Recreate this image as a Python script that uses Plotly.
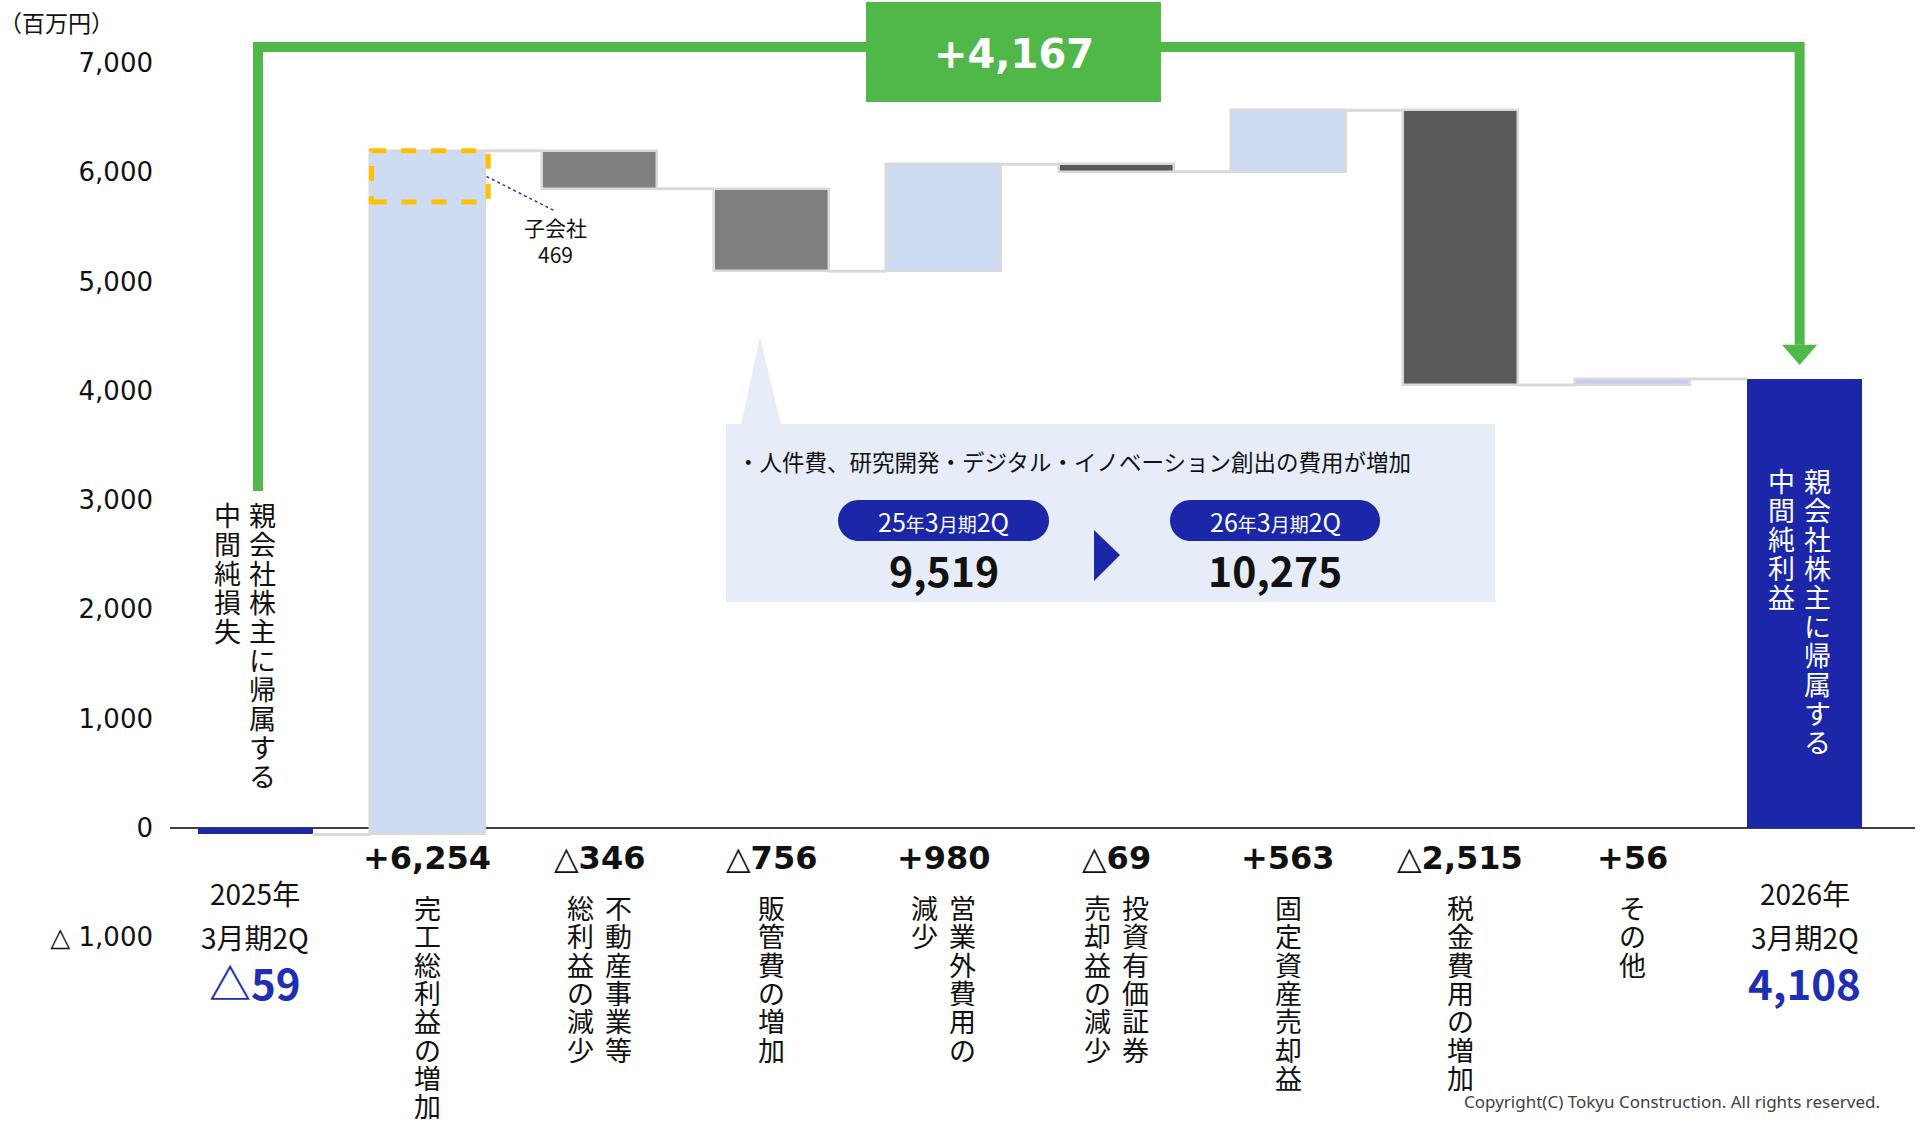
import plotly.graph_objects as go

# ---------------- data ----------------
categories = ["2025年3月期2Q", "完工総利益の増加", "不動産事業等総利益の減少", "販管費の増加",
              "営業外費用の減少", "投資有価証券売却益の減少", "固定資産売却益", "税金費用の増加",
              "その他", "2026年3月期2Q"]
values = [-59, 6254, -346, -756, 980, -69, 563, -2515, 56, 4108]
measures = ["total", "relative", "relative", "relative", "relative", "relative",
            "relative", "relative", "relative", "total"]
# vertical category labels, columns read right -> left
label_columns = [None, ["完工総利益の増加"], ["不動産事業等", "総利益の減少"], ["販管費の増加"],
                 ["営業外費用の", "減少"], ["投資有価証券", "売却益の減少"], ["固定資産売却益"],
                 ["税金費用の増加"], ["その他"], None]
period_lines = {0: ["2025年", "3月期2Q"], 9: ["2026年", "3月期2Q"]}
total_bar_text = {0: ["親会社株主に帰属する", "中間純損失"], 9: ["親会社株主に帰属する", "中間純利益"]}
y_tick_vals = [-1000, 0, 1000, 2000, 3000, 4000, 5000, 6000, 7000]
y_tick_text = ["△ 1,000", "0", "1,000", "2,000", "3,000", "4,000", "5,000", "6,000", "7,000"]
unit_label = "（百万円）"
subsidiary_label = "子会社"
subsidiary_value = 469
total_change = 4167
callout_text = "・人件費、研究開発・デジタル・イノベーション創出の費用が増加"
sga_periods = ["25年3月期2Q", "26年3月期2Q"]
sga_values = [9519, 10275]
copyright_text = "Copyright(C) Tokyu Construction. All rights reserved."

# ---------------- styles ----------------
W, H = 1923, 1125
ML, MR = 170, 8
XR = [-0.494, 9.64]
YR = [-2717, 7575]
BW = 0.668
DARK_BLUE = "#1b27a8"
LIGHT_BLUE = "#cddcf3"
GREEN = "#50b848"
bar_colors = [DARK_BLUE, LIGHT_BLUE, "#7f7f7f", "#7f7f7f", LIGHT_BLUE, "#595959",
              LIGHT_BLUE, "#595959", "#c9cdf6", DARK_BLUE]
JP = "Noto Sans CJK JP"
DV = "DejaVu Sans"
TXT = "#111111"


def PX(px):  # pixel x -> paper
    return (px - ML) / (W - ML - MR)


def PY(py):  # pixel y -> paper
    return 1 - py / H


def fmt(v):
    return f"+{v:,}" if v > 0 else f"△{-v:,}"


# ---------------- waterfall geometry ----------------
bases, ends = [], []
running = 0
for v, m in zip(values, measures):
    if m == "total":
        bases.append(0)
        running = v
    else:
        bases.append(running)
        running += v
    ends.append(running)

xs = list(range(len(categories)))

fig = go.Figure()

# connectors
cx, cy = [], []
for i in range(len(xs) - 1):
    cx += [xs[i] + BW / 2, xs[i + 1] - BW / 2, None]
    cy += [ends[i], ends[i], None]
fig.add_trace(go.Scatter(x=cx, y=cy, mode="lines", line=dict(color="#d9d9d9", width=3),
                         hoverinfo="skip", showlegend=False))

fig.add_trace(go.Bar(
    x=xs, y=values, base=bases, width=BW,
    marker=dict(color=bar_colors,
                line=dict(color=["#d9d9d9" if m != "total" else DARK_BLUE for m in measures],
                          width=[2.5 if m != "total" else 0 for m in measures])),
    hovertext=categories, showlegend=False))

ann = []
shapes = []


def A(**kw):
    kw.setdefault("showarrow", False)
    kw.setdefault("xanchor", "center")
    kw.setdefault("yanchor", "middle")
    ann.append(kw)


# value labels below axis
for i, (v, m) in enumerate(zip(values, measures)):
    if m == "relative":
        A(x=xs[i], y=PY(858), xref="x", yref="paper", text=f"<b>{fmt(v)}</b>",
          font=dict(family=DV, size=32, color=TXT))
    else:
        lines = period_lines[i]
        A(x=xs[i], y=PY(893), xref="x", yref="paper", text=lines[0],
          font=dict(family=JP, size=28, color=TXT))
        A(x=xs[i], y=PY(937), xref="x", yref="paper", text=lines[1],
          font=dict(family=JP, size=28, color=TXT))
        A(x=xs[i], y=PY(981), xref="x", yref="paper", text=f"<b>{fmt(v).replace('+', '')}</b>",
          font=dict(family=JP, size=42, color="#1f2fb3"))


def vtext(x, shift, text, top, color, size=27, pitch=28.3):
    for k, ch in enumerate(text):
        A(x=x, xshift=shift, y=PY(top + pitch / 2 + pitch * k), xref="x", yref="paper",
          text=ch, height=int(pitch), font=dict(family=JP, size=size, color=color))


# vertical category labels
for i, cols in enumerate(label_columns):
    if not cols:
        continue
    if len(cols) == 1:
        vtext(xs[i], 0, cols[0], 893, TXT)
    else:
        vtext(xs[i], 19, cols[0], 893, TXT)
        vtext(xs[i], -19, cols[1], 893, TXT)

# vertical labels for totals
vtext(xs[0], 7, total_bar_text[0][0], 500, TXT, pitch=29)
vtext(xs[0], -28, total_bar_text[0][1], 500, TXT, pitch=29)
vtext(xs[9], 13, total_bar_text[9][0], 466, "white", pitch=29)
vtext(xs[9], -23, total_bar_text[9][1], 466, "white", pitch=29)

# subsidiary dashed box inside bar 2
top2 = ends[1]
shapes.append(dict(type="rect", xref="x", yref="y", x0=xs[1] - BW / 2 + 0.01, x1=xs[1] + BW / 2 + 0.02,
                   y0=top2 - subsidiary_value, y1=top2,
                   line=dict(color="#ffc000", width=5, dash="dash"), fillcolor="rgba(0,0,0,0)"))
shapes.append(dict(type="line", xref="x", yref="y", x0=xs[1] + BW / 2 + 0.01, y0=top2 - subsidiary_value / 2,
                   x1=1.742, y1=5645, line=dict(color="#2a35b8", width=1.5, dash="dot")))
A(x=1.742, y=PY(240), xref="x", yref="paper",
  text=f"{subsidiary_label}<br>{subsidiary_value}", font=dict(family=JP, size=21, color=TXT))

# green bracket arrow
gx0, gx1 = xs[0] + 0.017, xs[9] - 0.03
shapes.append(dict(type="path", xref="x", yref="y",
                   path=f"M {gx0},3083 L {gx0},7145 L {gx1},7145 L {gx1},4420",
                   line=dict(color=GREEN, width=10), fillcolor="rgba(0,0,0,0)"))
shapes.append(dict(type="path", xref="x", yref="y",
                   path=f"M {gx1 - 0.102},4420 L {gx1 + 0.102},4420 L {gx1},4236 Z",
                   line=dict(width=0), fillcolor=GREEN))
shapes.append(dict(type="rect", xref="x", yref="y", x0=3.548, x1=5.261, y0=6642, y1=7557,
                   line=dict(width=0), fillcolor=GREEN))
A(x=4.405, y=PY(54), xref="x", yref="paper", text=f"<b>+{total_change:,}</b>",
  font=dict(family=DV, size=40, color="white"))

# callout box
CB = "#e6ecf8"
shapes.append(dict(type="path", xref="paper", yref="paper",
                   path=f"M {PX(741)},{PY(425)} L {PX(781)},{PY(425)} L {PX(760)},{PY(337)} Z",
                   line=dict(width=0), fillcolor=CB, layer="below"))
shapes.append(dict(type="rect", xref="paper", yref="paper", x0=PX(726), x1=PX(1495), y0=PY(602), y1=PY(424),
                   line=dict(width=0), fillcolor=CB, layer="below"))
A(x=PX(735), y=PY(461), xref="paper", yref="paper", text=callout_text, xanchor="left",
  font=dict(family=JP, size=22.5, color=TXT))


def pill(x0, x1, y0, y1):
    r = (y1 - y0) / 2
    k = 0.5523 * r
    pts = [("M", (x0 + r, y0)), ("L", (x1 - r, y0)),
           ("C", (x1 - r + k, y0), (x1, y0 + r - k), (x1, y0 + r)),
           ("C", (x1, y0 + r + k), (x1 - r + k, y1), (x1 - r, y1)),
           ("L", (x0 + r, y1)),
           ("C", (x0 + r - k, y1), (x0, y0 + r + k), (x0, y0 + r)),
           ("C", (x0, y0 + r - k), (x0 + r - k, y0), (x0 + r, y0))]
    s = ""
    for p in pts:
        s += p[0] + " " + " ".join(f"{PX(a)},{PY(b)}" for a, b in p[1:]) + " "
    return s + "Z"


pill_x = [(838, 1049), (1170, 1380)]
for (a, b), per, val in zip(pill_x, sga_periods, sga_values):
    shapes.append(dict(type="path", xref="paper", yref="paper", path=pill(a, b, 500, 541),
                       line=dict(width=0), fillcolor=DARK_BLUE))
    yy, rest = per.split("年")
    mm = rest.replace("月期", "|").split("|")
    txt = (f"{yy}<span style='font-size:19px'>年</span>{mm[0]}"
           f"<span style='font-size:19px'>月期</span>{mm[1]}")
    A(x=PX((a + b) / 2), y=PY(521), xref="paper", yref="paper", text=txt,
      font=dict(family=JP, size=25, color="white"))
    A(x=PX((a + b) / 2), y=PY(569), xref="paper", yref="paper", text=f"<b>{val:,}</b>",
      font=dict(family=JP, size=41, color=TXT))
shapes.append(dict(type="path", xref="paper", yref="paper",
                   path=f"M {PX(1094)},{PY(530)} L {PX(1120)},{PY(555)} L {PX(1094)},{PY(581)} Z",
                   line=dict(width=0), fillcolor=DARK_BLUE))

# unit label & copyright
A(x=PX(-3), y=PY(22), xref="paper", yref="paper", text=unit_label, xanchor="left",
  font=dict(family=JP, size=23, color=TXT))
A(x=PX(1882), y=PY(1101), xref="paper", yref="paper", text=copyright_text,
  xanchor="right", font=dict(family="Noto Sans", size=17, color="#404040"))

fig.update_layout(
    width=W, height=H, margin=dict(l=ML, r=MR, t=0, b=0),
    plot_bgcolor="white", paper_bgcolor="white", showlegend=False, bargap=0,
    xaxis=dict(range=XR, visible=False, fixedrange=True),
    yaxis=dict(range=YR, tickvals=y_tick_vals, ticktext=y_tick_text, showgrid=False,
               zeroline=True, zerolinecolor="#404040", zerolinewidth=2, showline=False,
               ticks="", ticklabelstandoff=16, tickfont=dict(family=DV, size=26, color=TXT)),
    annotations=ann, shapes=shapes,
)

fig.write_html("out.html", config={"displayModeBar": False},
               post_script="document.body.style.margin='0px';document.body.style.overflow='hidden';")
